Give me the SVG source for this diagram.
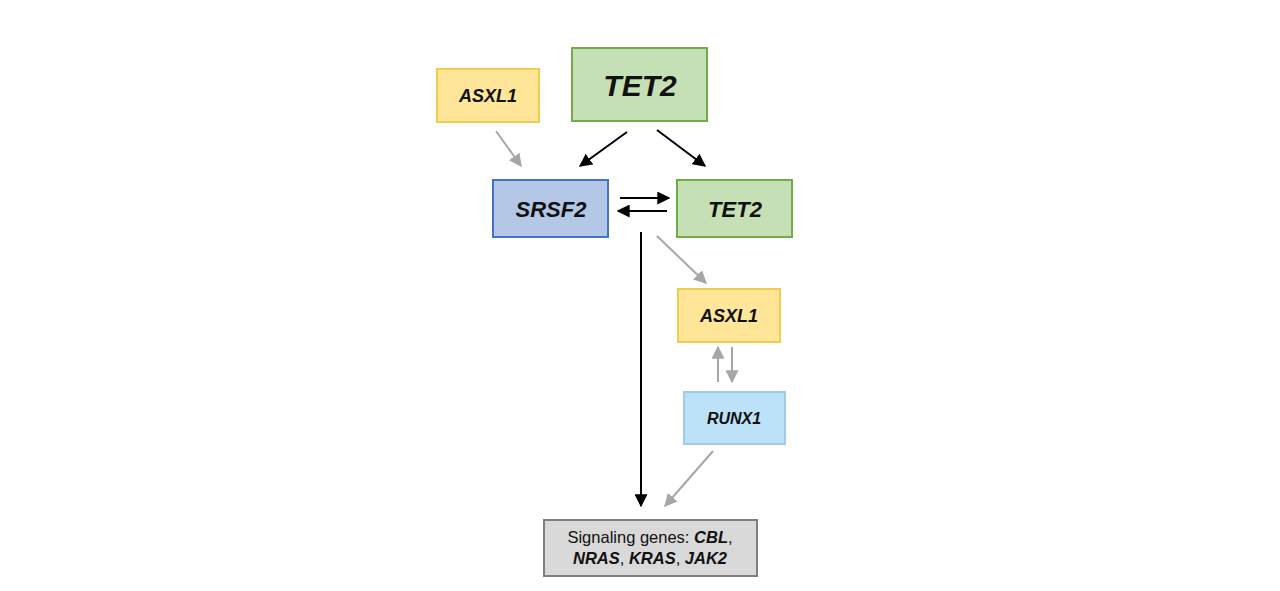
<svg xmlns="http://www.w3.org/2000/svg" width="1280" height="591" viewBox="0 0 1280 591">
<style>
.t{font-family:"Liberation Sans",Arial,sans-serif;font-weight:bold;font-style:italic;fill:#111;text-anchor:middle;dominant-baseline:central}
.n{font-family:"Liberation Sans",Arial,sans-serif;fill:#111;text-anchor:middle}
.y{fill:#FFE699;stroke:#F2CC4E;stroke-width:2}
.g{fill:#C5E0B4;stroke:#70AD47;stroke-width:2}
.b{fill:#B4C7E7;stroke:#4472C4;stroke-width:2}
.lb{fill:#BDE2F8;stroke:#9DCBEA;stroke-width:2}
.gr{fill:#D9D9D9;stroke:#7F7F7F;stroke-width:2}
.k{stroke:#000;stroke-width:2;fill:none;marker-end:url(#ak)}
.s{stroke:#A6A6A6;stroke-width:2;fill:none;marker-end:url(#as)}
</style>
<defs>
<marker id="ak" viewBox="0 0 10 10" refX="9" refY="5" markerWidth="6.5" markerHeight="6.5" orient="auto" markerUnits="strokeWidth"><path d="M0,0 L10,5 L0,10 z" fill="#000"/></marker>
<marker id="as" viewBox="0 0 10 10" refX="9" refY="5" markerWidth="6.5" markerHeight="6.5" orient="auto" markerUnits="strokeWidth"><path d="M0,0 L10,5 L0,10 z" fill="#A6A6A6"/></marker>
</defs>
<rect width="1280" height="591" fill="#fff"/>
<g id="connectors">
<line class="s" x1="496" y1="131" x2="521" y2="166"/>
<line class="k" x1="627" y1="132" x2="580" y2="166"/>
<line class="k" x1="657" y1="130" x2="705" y2="166"/>
<line class="k" x1="620" y1="198" x2="669" y2="198"/>
<line class="k" x1="667" y1="211" x2="618" y2="211"/>
<line class="k" x1="641" y1="232" x2="641" y2="506"/>
<line class="s" x1="657" y1="236" x2="706" y2="283"/>
<line class="s" x1="718" y1="382" x2="718" y2="347"/>
<line class="s" x1="732" y1="347" x2="732" y2="382"/>
<line class="s" x1="713" y1="451" x2="665" y2="506"/>
</g>
<g id="asxl1-top"><rect class="y" x="437" y="69" width="102" height="53"/><text class="t" x="488" y="96" font-size="18">ASXL1</text></g>
<g id="tet2-top"><rect class="g" x="572" y="48" width="135" height="73"/><text class="t" x="640" y="85" font-size="30">TET2</text></g>
<g id="srsf2"><rect class="b" x="493" y="180" width="115" height="57"/><text class="t" x="551" y="209" font-size="22">SRSF2</text></g>
<g id="tet2-mid"><rect class="g" x="677" y="180" width="115" height="57"/><text class="t" x="735" y="209" font-size="22">TET2</text></g>
<g id="asxl1-mid"><rect class="y" x="678" y="289" width="102" height="53"/><text class="t" x="729" y="316" font-size="18">ASXL1</text></g>
<g id="runx1"><rect class="lb" x="684" y="392" width="101" height="52"/><text class="t" x="734" y="418" font-size="16">RUNX1</text></g>
<g id="signaling"><rect class="gr" x="544" y="520" width="213" height="56"/>
<text class="n" x="650" y="543" font-size="16.5">Signaling genes: <tspan font-weight="bold" font-style="italic">CBL</tspan>,</text>
<text class="n" x="650" y="564" font-size="16.5"><tspan font-weight="bold" font-style="italic">NRAS</tspan>, <tspan font-weight="bold" font-style="italic">KRAS</tspan>, <tspan font-weight="bold" font-style="italic">JAK2</tspan></text>
</g>
</svg>
